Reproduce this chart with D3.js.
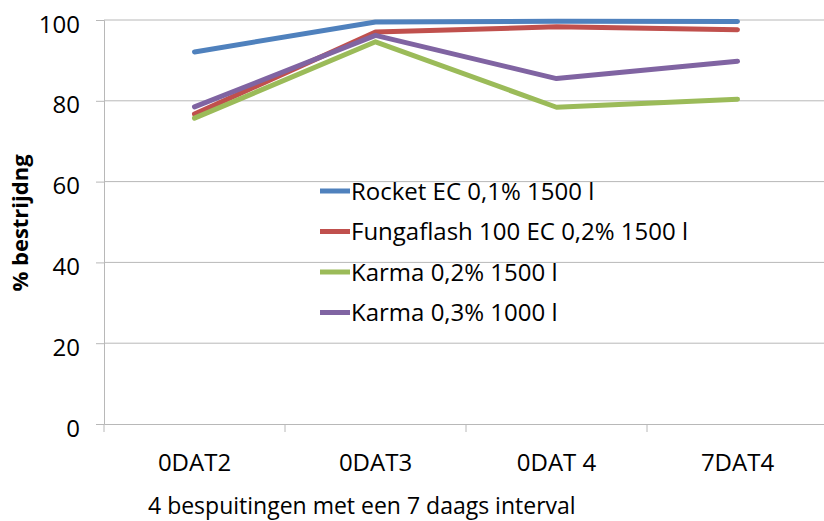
<!DOCTYPE html>
<html>
<head>
<meta charset="utf-8">
<script src="https://cdn.jsdelivr.net/npm/d3@7"></script>
<style>
  body { margin: 0; background: #fff; }
  text { font-family: "Open Sans", "DejaVu Sans", sans-serif; fill: #000; }
</style>
</head>
<body>
<div id="chart"></div>
<script>
// data
let categories = ["0DAT2", "0DAT3", "0DAT 4", "7DAT4"];
let seriesNames = ["Rocket EC 0,1% 1500 l", "Fungaflash 100 EC 0,2% 1500 l", "Karma 0,2% 1500 l", "Karma 0,3% 1000 l"];
let rocket = [92.1, 99.5, 99.7, 99.6];
let fungaflash = [76.7, 97.0, 98.3, 97.6];
let karma02 = [75.7, 94.6, 78.4, 80.4];
let karma03 = [78.5, 96.2, 85.5, 89.8];
let yTicks = [0, 20, 40, 60, 80, 100];
let colors = ["#4F81BD", "#C0504D", "#9BBB59", "#8064A2"];

let allValues = [rocket, fungaflash, karma02, karma03];

let margin = {top: 20, left: 104},
    plotW = 724,
    plotH = 404;

let svg = d3.select("#chart")
    .append("svg")
    .attr("width", 824)
    .attr("height", 521);

let g = svg.append("g")
    .attr("transform", "translate(" + margin.left + "," + margin.top + ")");

let x = d3.scaleBand()
    .domain(categories)
    .range([0, plotW]);

let y = d3.scaleLinear()
    .domain([0, 100])
    .range([plotH, 0]);

//gridlines
g.selectAll("grid")
    .data(yTicks.filter(function(d){ return d > 0; }))
    .enter()
    .append("line")
    .attr("x1", 0)
    .attr("x2", plotW)
    .attr("y1", function(d){ return y(d); })
    .attr("y2", function(d){ return y(d); })
    .style("stroke", "#b8b8b8")
    .style("stroke-width", 1);

//y axis
let yAxis = g.append("g")
    .call(d3.axisLeft(y).tickValues(yTicks).tickSize(8).tickPadding(16));
yAxis.select(".domain").style("stroke", "#b8b8b8");
yAxis.selectAll(".tick line").style("stroke", "#b8b8b8");
yAxis.selectAll("text").style("font-size", "24px").attr("dy", "0.5em");

//x axis, ticks on band edges
let xAxis = g.append("g")
    .attr("transform", "translate(0," + plotH + ")")
    .call(d3.axisBottom(x).tickSize(0).tickPadding(30));
xAxis.select(".domain").style("stroke", "#b8b8b8");
xAxis.selectAll("text").style("font-size", "24px");
g.selectAll("xEdgeTicks")
    .data(categories)
    .enter()
    .append("line")
    .attr("x1", function(d){ return x(d); })
    .attr("x2", function(d){ return x(d); })
    .attr("y1", plotH)
    .attr("y2", plotH + 8)
    .style("stroke", "#b8b8b8");

//lines
let line = d3.line()
    .x(function(d, i){ return x(categories[i]) + x.bandwidth() / 2; })
    .y(function(d){ return y(d); });

g.selectAll("series")
    .data(allValues)
    .enter()
    .append("path")
    .attr("d", function(d){ return line(d); })
    .style("fill", "none")
    .style("stroke", function(d, i){ return colors[i]; })
    .style("stroke-width", 5)
    .style("stroke-linecap", "round")
    .style("stroke-linejoin", "round");

//legend
let legend = svg.selectAll("legend")
    .data(seriesNames)
    .enter()
    .append("g")
    .attr("transform", function(d, i){ return "translate(320," + (191 + i * 40.5) + ")"; });
legend.append("line")
    .attr("x1", 0)
    .attr("x2", 30)
    .style("stroke", function(d, i){ return colors[i]; })
    .style("stroke-width", 5);
legend.append("text")
    .attr("x", 31)
    .attr("dy", "0.36em")
    .style("font-size", "24px")
    .text(function(d){ return d; });

//axis titles
svg.append("text")
    .attr("transform", "translate(28,223) rotate(-90)")
    .attr("text-anchor", "middle")
    .style("font-size", "22px")
    .style("font-weight", "bold")
    .text("% bestrijdng");

svg.append("text")
    .attr("x", 148)
    .attr("y", 514)
    .style("font-size", "23px")
    .text("4 bespuitingen met een 7 daags interval");
</script>
</body>
</html>
